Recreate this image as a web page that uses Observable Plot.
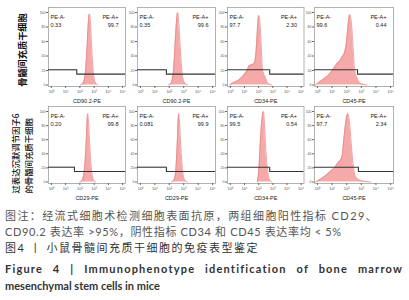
<!DOCTYPE html>
<html>
<head>
<meta charset="utf-8">
<script src="https://cdn.jsdelivr.net/npm/d3@7"></script>
<script src="https://cdn.jsdelivr.net/npm/@observablehq/plot@0.6"></script>
<style>
  html, body { margin: 0; padding: 0; background: #fff; }
  #fig { position: relative; width: 409px; height: 300px; overflow: hidden; background: #fff; }
  .panel { position: absolute; }
  .rowlab { position: absolute; transform: rotate(-90deg); font-family: "Noto Sans CJK SC", sans-serif; color: #111; white-space: nowrap; }
  .cap { position: absolute; left: 5px; white-space: nowrap; font-family: Lato, "Noto Sans CJK SC", sans-serif; }
</style>
</head>
<body>
<div id="fig"></div>
<script>
// ---------- data ----------
const rowLabels = [["骨髓间充质干细胞"], ["过表达沉默调节因子6", "的骨髓间充质干细胞"]];
const xLabels = ["CD90.2-PE", "CD90.2-PE", "CD34-PE", "CD45-PE", "CD29-PE", "CD29-PE", "CD34-PE", "CD45-PE"];
const gateNames = ["PE-A-", "PE-A+"];
const negPct = ["0.33", "0.35", "97.7", "99.6", "0.20", "0.081", "99.5", "97.7"];
const posPct = ["99.7", "99.6", "2.30", "0.44", "99.8", "99.9", "0.54", "2.34"];
const gateLog = [1.78, 1.8, 2.78, 2.74, 1.62, 1.8, 2.78, 2.8];   // log10 of gate boundary
const gateLevels = [21, 15];                                       // % of mode: negative gate, positive gate
const xTickExp = [0, 1, 2, 3, 4, 5];
const yTicks = [0, 20, 40, 60, 80, 100];

// histograms: [log10(PE), % of mode]
const h1 = [[2.05,0],[2.2,2],[2.32,8],[2.42,25],[2.52,58],[2.6,88],[2.67,98],[2.73,90],[2.81,60],[2.9,28],[3.0,9],[3.1,3],[3.25,0]];
const h2 = [[1.95,0],[2.1,2],[2.2,7],[2.3,22],[2.4,55],[2.5,88],[2.58,100],[2.65,88],[2.75,55],[2.85,25],[2.95,9],[3.1,2],[3.27,0]];
const h3 = [[-0.05,0],[0.1,2],[0.36,4.5],[0.6,7],[0.83,11],[1.0,15],[1.18,20],[1.34,27],[1.53,28],[1.71,31],[1.83,50],[1.93,82],[2.0,96],[2.09,86],[2.18,55],[2.28,20],[2.47,11],[2.65,2],[2.93,0]];
const h4 = [[-0.13,0],[0.0,2],[0.33,7],[0.78,14],[1.12,23],[1.35,30],[1.53,33],[1.69,39],[1.8,42],[1.99,60],[2.1,84],[2.21,97],[2.33,84],[2.44,51],[2.53,23],[2.72,9],[2.94,2],[3.4,0]];
const h5 = [[2.0,0],[2.15,2],[2.25,8],[2.35,25],[2.45,60],[2.51,88],[2.55,97],[2.6,88],[2.68,58],[2.78,25],[2.88,8],[2.98,2],[3.1,0]];
const h6 = [[2.15,0],[2.3,2],[2.4,8],[2.48,25],[2.56,60],[2.62,90],[2.65,97],[2.7,88],[2.78,58],[2.88,25],[2.98,8],[3.1,2],[3.25,0]];
const h7 = [[1.91,0],[2.02,20],[2.14,65],[2.26,93],[2.34,100],[2.42,80],[2.52,40],[2.62,20],[2.73,5],[2.9,0]];
const h8 = [[-0.13,0],[0.21,4],[0.55,9],[0.89,15],[1.24,22],[1.39,27],[1.53,30],[1.69,37],[1.8,60],[1.92,82],[2.08,97],[2.19,85],[2.31,55],[2.44,25],[2.6,8],[2.83,3],[3.17,1],[3.63,0]];
const hists = [h1, h2, h3, h4, h5, h6, h7, h8];

const captionCN = [
  "图注：经流式细胞术检测细胞表面抗原，两组细胞阳性指标 CD29、",
  "CD90.2 表达率 >95%，阴性指标 CD34 和 CD45 表达率均 < 5%",
  "图4 丨 小鼠骨髓间充质干细胞的免疫表型鉴定"
];
const captionEN = [
  "Figure 4 | Immunophenotype identification of bone marrow",
  "mesenchymal stem cells in mice"
];

// ---------- layout ----------
const colFrames = [[48, 125], [137, 215], [227, 303.5], [314, 393]];
const rowFrames = [[7, 86], [105.5, 182.5]];
const mL = 14, mR = 2, mT = 7, mB = 20;
const xDomain = [10 ** -0.2, 10 ** 5.2];
const sup = {0: "⁰", 1: "¹", 2: "²", 3: "³", 4: "⁴", 5: "⁵"};

const fig = document.getElementById("fig");

hists.forEach((hist, i) => {
  const r = Math.floor(i / 4), c = i % 4;
  const [L, R] = colFrames[c], [T, B] = rowFrames[r];
  const W = mL + (R - L) + mR, H = mT + (B - T) + mB;
  const g = 10 ** gateLog[i];
  const pts = hist.map(([lx, v]) => ({x: 10 ** lx, y: v}));
  const gates = [
    {x1: xDomain[0], x2: g, y: gateLevels[0]},
    {x1: g, x2: xDomain[1], y: gateLevels[1]}
  ];
  const svg = Plot.plot({
    width: W, height: H,
    marginLeft: mL, marginRight: mR, marginTop: mT, marginBottom: mB,
    style: {background: "transparent", overflow: "visible", maxWidth: "none", fontFamily: "'Liberation Sans', Arial, sans-serif"},
    x: {type: "log", domain: xDomain, axis: null},
    y: {domain: [0, 100], axis: null, insetTop: 5, insetBottom: 1.5},
    marks: [
      Plot.areaY(pts, {x: "x", y: "y", fill: "#f5a9a9", curve: "monotone-x"}),
      Plot.lineY(pts, {x: "x", y: "y", stroke: "#e57f7f", strokeWidth: 0.7, curve: "monotone-x"}),
      Plot.frame({stroke: "#a0a0a0", strokeWidth: 0.8}),
      Plot.axisX({ticks: xTickExp.map(e => 10 ** e), tickFormat: d => "10" + sup[Math.round(Math.log10(d))],
        fontSize: 4, tickSize: 2, tickPadding: 2, label: null, stroke: "#666", fill: "#555"}),
      Plot.axisY({ticks: yTicks, fontSize: 3.5, tickSize: 2, tickPadding: 1, label: null, stroke: "#666", fill: "#555"}),
      Plot.ruleY(gates, {x1: "x1", x2: "x2", y: "y", stroke: "#333", strokeWidth: 1.1}),
      Plot.ruleX([g], {y1: gateLevels[1], y2: gateLevels[0], stroke: "#333", strokeWidth: 1.1}),
      Plot.text([gateNames[0]], {frameAnchor: "top-left", dx: 2, dy: 8, textAnchor: "start", fontSize: 5.5, fill: "#222"}),
      Plot.text([negPct[i]], {frameAnchor: "top-left", dx: 2, dy: 16, textAnchor: "start", fontSize: 5.5, fill: "#222"}),
      Plot.text([gateNames[1]], {frameAnchor: "top-right", dx: -7, dy: 8, textAnchor: "end", fontSize: 5.5, fill: "#222"}),
      Plot.text([posPct[i]], {frameAnchor: "top-right", dx: -7, dy: 16, textAnchor: "end", fontSize: 5.5, fill: "#222"}),
      Plot.text([xLabels[i]], {frameAnchor: "bottom", dy: 16, fontSize: 5.5, fill: "#222"})
    ]
  });
  svg.classList.add("panel");
  svg.style.left = (L - mL) + "px";
  svg.style.top = (T - mT) + "px";
  svg.style.position = "absolute";
  fig.appendChild(svg);
});

// row labels
function rowLabel(lines, cx, cy, w, lh, fs, align, weight) {
  const d = document.createElement("div");
  d.className = "rowlab";
  const h = lines.length * lh;
  d.style.left = (cx - w / 2) + "px";
  d.style.top = (cy - h / 2) + "px";
  d.style.width = w + "px";
  d.style.height = h + "px";
  d.style.fontSize = fs + "px";
  d.style.lineHeight = lh + "px";
  d.style.textAlign = align;
  d.style.fontWeight = weight;
  d.innerHTML = lines.map(t => `<div>${t}</div>`).join("");
  fig.appendChild(d);
}
rowLabel(rowLabels[0], 22, 50, 74, 12, 9.2, "center", 600);
rowLabel(rowLabels[1], 20.5, 152, 82, 12.5, 8.4, "left", 500);

// caption
function cap(text, top, opts) {
  const d = document.createElement("div");
  d.className = "cap";
  d.textContent = text;
  d.style.top = top + "px";
  Object.assign(d.style, opts);
  fig.appendChild(d);
}
cap(captionCN[0], 207.5, {fontSize: "11px", lineHeight: "16px", color: "#555", letterSpacing: "1.4px"});
cap(captionCN[1], 223.5, {fontSize: "11px", lineHeight: "16px", color: "#555", letterSpacing: "0.65px"});
cap(captionCN[2], 239.5, {fontSize: "11px", lineHeight: "16px", color: "#333", letterSpacing: "1.5px"});
cap(captionEN[0], 260.5, {fontFamily: "Lato, sans-serif", fontWeight: 700, fontSize: "11px", lineHeight: "15px", color: "#333",
  width: "398px", textAlign: "justify", textAlignLast: "justify", letterSpacing: "1.2px"});
cap(captionEN[1], 277.5, {fontFamily: "Lato, sans-serif", fontWeight: 700, fontSize: "11px", lineHeight: "15px", color: "#333"});
</script>
</body>
</html>
